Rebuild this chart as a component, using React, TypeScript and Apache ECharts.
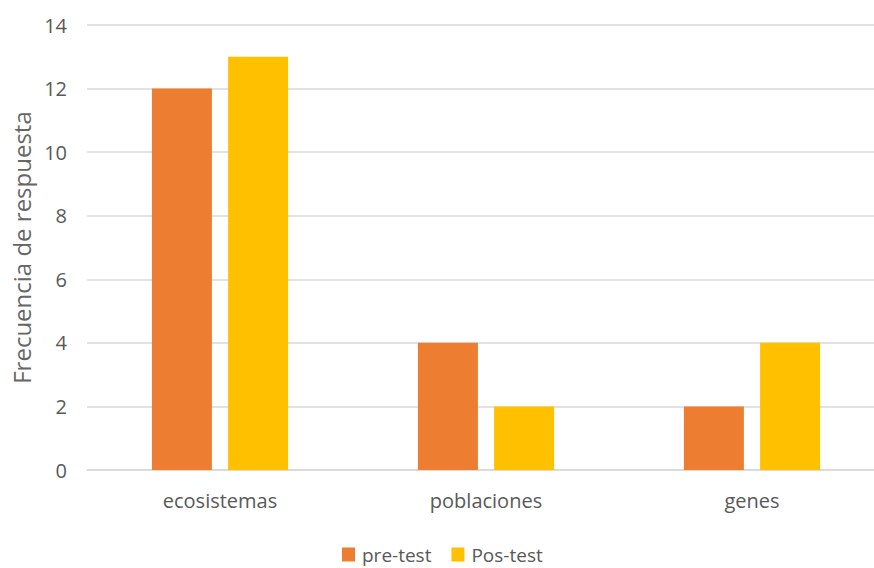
import React, { useEffect, useRef } from "react";
import * as echarts from "echarts";

const categories = ["ecosistemas", "poblaciones", "genes"];
const preTest = [12, 4, 2];
const posTest = [13, 2, 4];
const seriesNames = ["pre-test", "Pos-test"];

export default function App() {
  const ref = useRef<HTMLDivElement>(null);
  useEffect(() => {
    if (!ref.current) return;
    const chart = echarts.init(ref.current, null, { renderer: "svg" });
    const font = "Open Sans";
    chart.setOption({
      animation: false,
      textStyle: { fontFamily: font },
      grid: { left: 87, top: 25, height: 445, width: 798 },
      legend: {
        data: seriesNames,
        top: 545,
        left: 342,
        padding: 0,
        itemWidth: 13,
        itemHeight: 14,
        itemGap: 20,
        icon: "rect",
        textStyle: { color: "#595959", fontSize: 19, fontFamily: font, padding: [0, 0, 0, 2] },
      },
      xAxis: {
        type: "category",
        data: categories,
        axisLine: { lineStyle: { color: "#d9d9d9", width: 1.5 } },
        axisTick: { show: false },
        axisLabel: { color: "#595959", fontSize: 20, margin: 20, fontFamily: font },
      },
      yAxis: {
        type: "value",
        min: 0,
        max: 14,
        interval: 2,
        name: "Frecuencia de respuesta",
        nameLocation: "middle",
        nameGap: 54,
        nameTextStyle: { color: "#666666", fontSize: 24, fontFamily: font },
        axisLine: { show: false },
        axisTick: { show: false },
        axisLabel: { color: "#595959", fontSize: 20, margin: 20, fontFamily: font },
        splitLine: { lineStyle: { color: "#d9d9d9", width: 1.5 } },
      },
      series: [
        {
          name: seriesNames[0],
          type: "bar",
          data: preTest,
          barWidth: 60,
          barGap: "27%",
          itemStyle: { color: "#ed7d31" },
        },
        {
          name: seriesNames[1],
          type: "bar",
          data: posTest,
          barWidth: 60,
          itemStyle: { color: "#ffc000" },
        },
      ],
    });
    return () => chart.dispose();
  }, []);
  return (
    <div style={{ position: "absolute", left: 0, top: 0, width: 874, height: 568, overflow: "hidden", background: "#fff" }}>
      <div ref={ref} style={{ width: 900, height: 568 }} />
    </div>
  );
}
